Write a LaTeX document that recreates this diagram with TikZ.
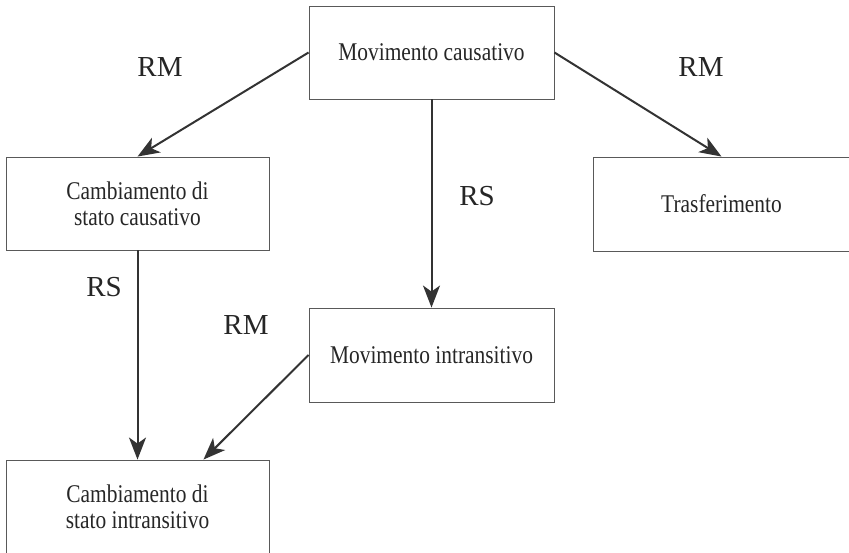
\documentclass[tikz,border=0pt]{standalone}
\usepackage{fontspec}
\setmainfont{Liberation Serif}
\newfontfamily\boxfont[FakeStretch=0.84]{Liberation Serif}
\usetikzlibrary{arrows.meta,calc}
\begin{document}
\begin{tikzpicture}[x=1pt,y=-1pt,
  box/.style={draw=black!65, line width=0.9pt, rectangle, inner sep=0pt, align=center,
    font=\boxfont\fontsize{25.5}{26}\selectfont, text=black!85},
  lbl/.style={font=\fontsize{29}{30}\selectfont, text=black!85, inner sep=0pt},
  arr/.style={draw=black!80, line width=2pt, -{Stealth[length=22pt,width=17pt,inset=6pt]}}]
\useasboundingbox (0,0) rectangle (849,553);
\node[box, minimum width=245pt, minimum height=93pt] (b1) at (431.5,52.5) {Movimento causativo};
\node[box, minimum width=263pt, minimum height=93pt] (b2) at (137.5,203.5) {Cambiamento di\\stato causativo};
\node[box, minimum width=257pt, minimum height=94pt] (b3) at (721.5,204) {Trasferimento};
\node[box, minimum width=245pt, minimum height=94pt] (b4) at (431.5,355) {Movimento intransitivo};
\node[box, minimum width=263pt, minimum height=94pt] (b5) at (137.5,507) {Cambiamento di\\stato intransitivo};
\coordinate (b5t) at ($(b5.north west)!0.75!(b5.north east)$);
\draw[arr] (b1.west) -- (b2.north);
\draw[arr] (b1.east) -- (b3.north);
\draw[arr] (b1.south) -- (b4.north);
\draw[arr] (b2.south) -- (b5.north);
\draw[arr] (b4.west) -- (b5t);
\node[lbl] (l1) at (160,67) {RM};
\node[lbl] (l2) at (701,67) {RM};
\node[lbl] (l3) at (477,196) {RS};
\node[lbl] (l4) at (104,287) {RS};
\node[lbl] (l5) at (246,325) {RM};
\end{tikzpicture}
\end{document}
